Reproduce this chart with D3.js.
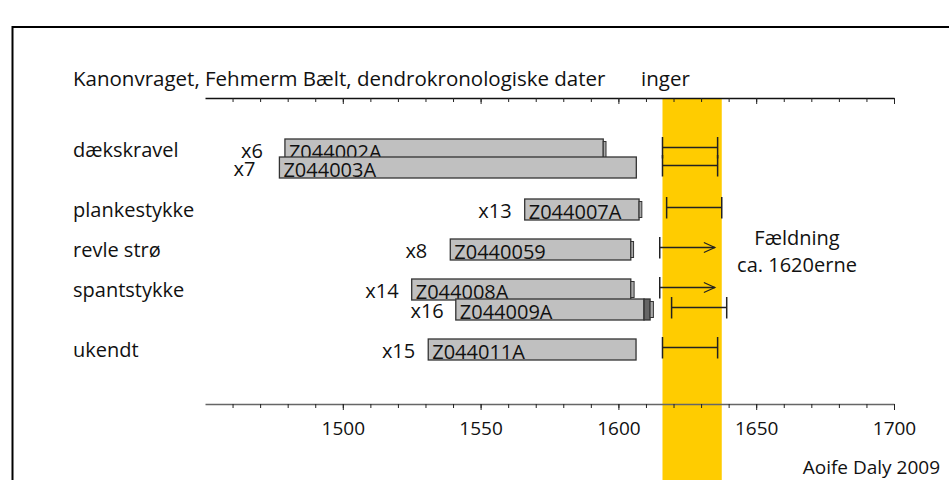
<!DOCTYPE html>
<html>
<head>
<meta charset="utf-8">
<script src="https://cdn.jsdelivr.net/npm/d3@7/dist/d3.min.js"></script>
<style>
  html, body { margin: 0; padding: 0; background: #fff; }
  svg { display: block; }
  text { font-family: "Open Sans", "DejaVu Sans", sans-serif; fill: #111; }
</style>
</head>
<body>
<svg id="chart" width="949" height="480"></svg>
<script>
// ---------------- DATA ----------------
const titleMain = "Kanonvraget, Fehmerm Bælt, dendrokronologiske dater";
const titleTail = "inger";
const credit = "Aoife Daly 2009";
const noteLines = ["Fældning", "ca. 1620erne"];

const groups = ["dækskravel", "plankestykke", "revle strø", "spantstykke", "ukendt"];
const samples = ["Z044002A", "Z044003A", "Z044007A", "Z0440059", "Z044008A", "Z044009A", "Z044011A"];
const counts = ["x6", "x7", "x13", "x8", "x14", "x16", "x15"];
const sampleGroup = [0, 0, 1, 2, 3, 3, 4];
const rowSlot = [0, 0.9, 3, 5, 7, 8, 10];
const startYear = [1479, 1477, 1566, 1539, 1525, 1541, 1531];
const endYear = [1594.5, 1606.5, 1607.5, 1604.5, 1604.5, 1609.3, 1606.4];
const darkEnd = [null, null, null, null, null, 1611.5, null];
const edgeEnd = [1595.5, null, 1608.5, 1605.5, 1605.7, 1612.7, null];
const fellFrom = [1616, 1616, 1617.5, 1615, 1615, 1619.3, 1616];
const fellTo = [1636, 1636, 1637.5, 1635, 1635, 1639.3, 1636];
const fellOpen = [false, false, false, true, true, false, false];
const bandYears = [1616, 1637.5];
const yearDomain = [1450, 1700];
const minorTicks = d3.range(1460, 1701, 10);
const majorTicks = [1500, 1550, 1600, 1650, 1700];

// ---------------- LAYOUT ----------------
const countGap = [22, 24, 13, 23, 13, 12, 13];
const svg = d3.select("#chart");
const x = d3.scaleLinear().domain(yearDomain).range([205, 894]);
const yRow = d3.scaleLinear().domain([0, 10]).range([139, 339]);
const barH = 21;
const topAxisY = 98, bottomAxisY = 404;

// frame
svg.append("rect").attr("x", 12.5).attr("y", 27).attr("width", 980).attr("height", 500)
  .attr("fill", "none").attr("stroke", "#000").attr("stroke-width", 2);

// yellow felling band
svg.append("rect")
  .attr("x", x(bandYears[0])).attr("y", topAxisY)
  .attr("width", x(bandYears[1]) - x(bandYears[0])).attr("height", 480 - topAxisY + 5)
  .attr("fill", "#FFCC00");

// title
svg.append("text").attr("x", 73).attr("y", 86).attr("font-size", 20.5).text(titleMain);
svg.append("text").attr("x", 641).attr("y", 86).attr("font-size", 20.5).text(titleTail);

// axes
function drawAxis(y, color, withLabels) {
  const g = svg.append("g").attr("transform", `translate(0,${y})`);
  g.call(d3.axisBottom(x).tickValues(minorTicks).tickSize(4).tickSizeOuter(0).tickFormat(""));
  g.select(".domain").attr("stroke", color).attr("stroke-width", 1.5);
  g.selectAll(".tick line").attr("stroke", "#222").attr("stroke-width", 1);
  const g2 = svg.append("g").attr("transform", `translate(0,${y})`);
  g2.call(d3.axisBottom(x).tickValues(majorTicks).tickSize(6).tickSizeOuter(0)
    .tickFormat(withLabels ? d3.format("d") : ""));
  g2.select(".domain").remove();
  g2.selectAll(".tick line").attr("stroke", "#222").attr("stroke-width", 1);
  g2.selectAll(".tick text").attr("y", 31).attr("dy", 0)
    .attr("font-size", 19).attr("font-family", "Open Sans, sans-serif").attr("fill", "#111");
}
drawAxis(topAxisY, "#111", false);
drawAxis(bottomAxisY, "#666", true);

// group labels (aligned with first bar of each group)
groups.forEach((gname, gi) => {
  const i = sampleGroup.indexOf(gi);
  svg.append("text").attr("x", 73).attr("y", yRow(rowSlot[i]) + barH / 2 + 7)
    .attr("font-size", 20).text(gname);
});

// bars
samples.forEach((s, i) => {
  const top = yRow(rowSlot[i]);
  const g = svg.append("g");
  g.append("rect")
    .attr("x", x(startYear[i])).attr("y", top)
    .attr("width", x(endYear[i]) - x(startYear[i])).attr("height", barH)
    .attr("fill", "#C0C0C0").attr("stroke", "#333").attr("stroke-width", 1.3);
  let last = endYear[i];
  if (darkEnd[i] != null) {
    g.append("rect")
      .attr("x", x(last)).attr("y", top)
      .attr("width", x(darkEnd[i]) - x(last)).attr("height", barH)
      .attr("fill", "#666").attr("stroke", "#333").attr("stroke-width", 1.3);
    last = darkEnd[i];
  }
  if (edgeEnd[i] != null) {
    g.append("rect")
      .attr("x", x(last)).attr("y", top + 2.5)
      .attr("width", x(edgeEnd[i]) - x(last)).attr("height", barH - 5)
      .attr("fill", "#A8A8A8").attr("stroke", "#333").attr("stroke-width", 1);
  }
  g.append("text").attr("x", x(startYear[i]) + 4).attr("y", top + barH / 2 + 9)
    .attr("font-size", 20).text(s);
  svg.append("text").attr("x", x(startYear[i]) - countGap[i]).attr("y", top + barH / 2 + 8)
    .attr("text-anchor", "end").attr("font-size", 20).text(counts[i]);
});

// felling ranges
samples.forEach((s, i) => {
  const top = yRow(rowSlot[i]);
  const y0 = top - 2, y1 = top + 19.5, ym = top + 8.5;
  const g = svg.append("g").attr("stroke", "#222").attr("fill", "none");
  const x0 = x(fellFrom[i]), x1 = x(fellTo[i]);
  g.append("line").attr("x1", x0).attr("x2", x0).attr("y1", y0).attr("y2", y1).attr("stroke-width", 1.5);
  g.append("line").attr("x1", x0).attr("x2", x1).attr("y1", ym).attr("y2", ym).attr("stroke-width", 1.3);
  if (fellOpen[i]) {
    g.append("path").attr("d", `M${x1 - 11},${ym - 5}L${x1},${ym}L${x1 - 11},${ym + 5}`)
      .attr("stroke-width", 1.2);
  } else {
    g.append("line").attr("x1", x1).attr("x2", x1).attr("y1", y0).attr("y2", y1).attr("stroke-width", 1.5);
  }
});

// note
noteLines.forEach((t, k) => {
  svg.append("text").attr("x", 797).attr("y", 245 + k * 27)
    .attr("text-anchor", "middle").attr("font-size", 20).text(t);
});

// credit
svg.append("text").attr("x", 940).attr("y", 474).attr("text-anchor", "end")
  .attr("font-size", 19).text(credit);
</script>
</body>
</html>
